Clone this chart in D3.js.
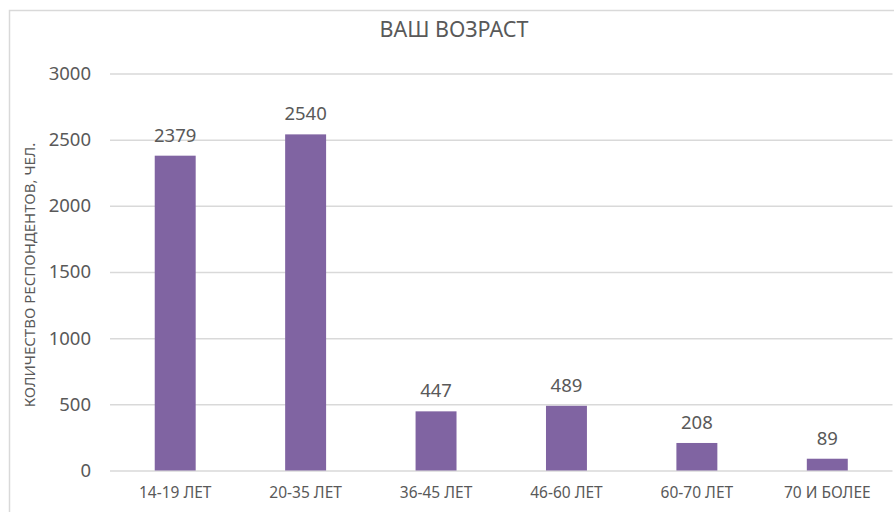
<!DOCTYPE html>
<html>
<head>
<meta charset="utf-8">
<script src="https://cdn.jsdelivr.net/npm/d3@7"></script>
<style>
  body { margin: 0; background: #fff; }
  text { font-family: "Noto Sans", sans-serif; fill: #595959; }
</style>
</head>
<body>
<div class="canvas"></div>
<script>
const categories = ['14-19 ЛЕТ', '20-35 ЛЕТ', '36-45 ЛЕТ', '46-60 ЛЕТ', '60-70 ЛЕТ', '70 И БОЛЕЕ'];
const counts = [2379, 2540, 447, 489, 208, 89];
const yTicks = [0, 500, 1000, 1500, 2000, 2500, 3000];

const width = 894, height = 512;

const svg = d3.select('.canvas').append('svg')
    .attr('width', width)
    .attr('height', height);

// chart border (right and bottom edges are cut off in the original)
svg.append('rect')
    .attr('x', 9.5).attr('y', 10.5)
    .attr('width', 1000).attr('height', 1000)
    .attr('fill', 'none')
    .attr('stroke', '#d9d9d9')
    .attr('stroke-width', 1.5);

const x = d3.scaleBand()
    .domain(categories)
    .range([110, 892.5])
    .paddingInner(0.686)
    .paddingOuter(0.343);

const y = d3.scaleLinear()
    .domain([0, 3000])
    .range([470.5, 73.5]);

// gridlines + tick labels
const yAxis = svg.append('g')
    .attr('transform', 'translate(110,0)')
    .call(d3.axisLeft(y).tickValues(yTicks).tickFormat(d3.format('d'))
        .tickSize(-(892.5 - 110)).tickPadding(19));
yAxis.select('.domain').remove();
yAxis.selectAll('line').attr('stroke', '#d9d9d9').attr('stroke-width', 1.5);
yAxis.selectAll('text')
    .style('font-family', '"Noto Sans", sans-serif')
    .style('font-size', '18.5px')
    .attr('fill', '#595959');

svg.selectAll('.bar')
    .data(counts)
    .enter().append('rect')
    .attr('class', 'bar')
    .attr('x', (d, i) => x(categories[i]))
    .attr('y', d => y(d))
    .attr('width', x.bandwidth())
    .attr('height', d => y(0) - y(d))
    .attr('fill', '#8064a2');

svg.selectAll('.val')
    .data(counts)
    .enter().append('text')
    .attr('class', 'val')
    .attr('x', (d, i) => x(categories[i]) + x.bandwidth() / 2)
    .attr('y', d => y(d) - 14)
    .attr('text-anchor', 'middle')
    .style('font-size', '18.5px')
    .text(d => d);

// category labels
const xAxis = svg.append('g')
    .attr('transform', 'translate(0,470.5)')
    .call(d3.axisBottom(x).tickSize(0).tickPadding(16));
xAxis.select('.domain').remove();
xAxis.selectAll('text')
    .style('font-family', '"Noto Sans", sans-serif')
    .style('font-size', '15.5px')
    .attr('fill', '#595959');

svg.append('text')
    .attr('x', 454)
    .attr('y', 37)
    .attr('text-anchor', 'middle')
    .style('font-size', '21.5px')
    .text('ВАШ ВОЗРАСТ');

svg.append('text')
    .attr('transform', 'translate(35,275) rotate(-90)')
    .attr('text-anchor', 'middle')
    .style('font-size', '15px')
    .text('КОЛИЧЕСТВО РЕСПОНДЕНТОВ, ЧЕЛ.');
</script>
</body>
</html>
